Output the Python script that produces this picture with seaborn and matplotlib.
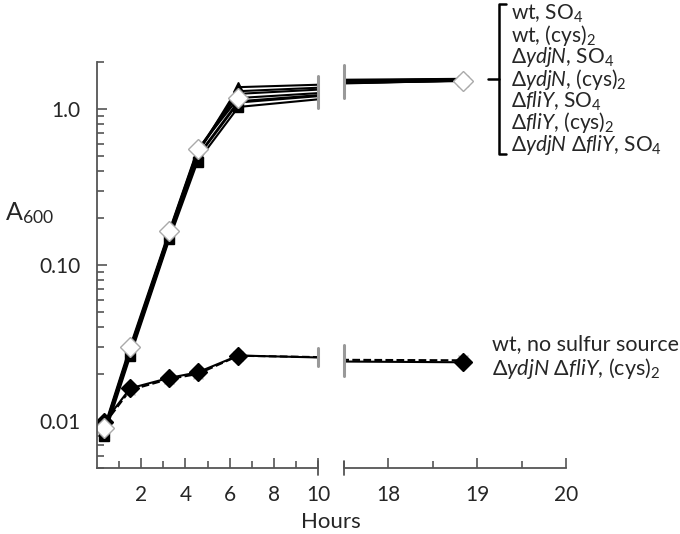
import numpy as np
import pandas as pd
import matplotlib
matplotlib.use('Agg')
import matplotlib.pyplot as plt
from matplotlib.lines import Line2D
from matplotlib.ticker import FixedLocator, LogLocator, NullFormatter
import seaborn as sns

# sampling times (hours)
hours = [0.32, 1.5, 3.27, 4.55, 6.4, 18.84]

# A600 readings, upper group (sulfur source present)
wt_so4 = [0.0080, 0.026, 0.146, 0.46, 1.03, 1.52]
wt_cys = [0.0085, 0.028, 0.158, 0.52, 1.38, 1.56]
ydjN_so4 = [0.0086, 0.028, 0.152, 0.50, 1.12, 1.53]
ydjN_cys = [0.0088, 0.029, 0.160, 0.53, 1.25, 1.55]
fliY_so4 = [0.0084, 0.027, 0.150, 0.49, 1.10, 1.52]
fliY_cys = [0.0087, 0.029, 0.162, 0.54, 1.30, 1.55]
dd_so4 = [0.0090, 0.030, 0.165, 0.55, 1.175, 1.51]

# lower group (no usable sulfur)
wt_none = [0.0095, 0.0158, 0.0186, 0.0200, 0.0262, 0.0245]
dd_cys = [0.0098, 0.0162, 0.0189, 0.0205, 0.0263, 0.0238]

upper_labels = ['wt, SO$_4$', 'wt, (cys)$_2$',
                r'$\Delta\mathit{ydjN}$, SO$_4$', r'$\Delta\mathit{ydjN}$, (cys)$_2$',
                r'$\Delta\mathit{fliY}$, SO$_4$', r'$\Delta\mathit{fliY}$, (cys)$_2$',
                r'$\Delta\mathit{ydjN}$ $\Delta\mathit{fliY}$, SO$_4$']
lower_labels = ['wt, no sulfur source',
                r'$\Delta\mathit{ydjN}$ $\Delta\mathit{fliY}$, (cys)$_2$']

sns.set_style('ticks')
plt.rcParams['font.family'] = ['Lato', 'DejaVu Sans']
plt.rcParams['mathtext.fontset'] = 'custom'
plt.rcParams['mathtext.rm'] = 'Lato'
plt.rcParams['mathtext.it'] = 'Lato:italic'
plt.rcParams['mathtext.bf'] = 'Lato:bold'

W, H = 680, 534
fig = plt.figure(figsize=(W / 100, H / 100), dpi=100)
ax1 = fig.add_axes([97 / W, 66 / H, 221 / W, 406 / H])
ax2 = fig.add_axes([344 / W, 66 / H, 222 / W, 406 / H])

# (values, marker, size, face, edge, linestyle)
series = [
    (wt_none, 'x', 7, 'none', '#bbbbbb', '--'),
    (dd_cys, 'D', 9, 'black', 'black', '-'),
    (wt_so4, 's', 7, 'black', 'black', '-'),
    (wt_cys, '^', 7, 'black', 'black', '-'),
    (ydjN_so4, 'o', 5, 'black', 'black', '-'),
    (ydjN_cys, 'o', 5, 'black', 'black', '-'),
    (fliY_so4, 's', 5, 'black', 'black', '-'),
    (fliY_cys, '^', 5, 'black', 'black', '-'),
    (dd_so4, 'D', 10, 'white', '#aaaaaa', '-'),
]

for ax in (ax1, ax2):
    for vals, mk, ms, fc, ec, ls in series:
        sns.lineplot(x=hours, y=vals, ax=ax, color='black', lw=1.5,
                     linestyle=ls, marker=mk, markersize=ms,
                     markerfacecolor=fc, markeredgecolor=ec, mew=1.0,
                     legend=False)
    ax.set_yscale('log')
    ax.set_ylim(0.005, 2.0)
    for side in ('top', 'right'):
        ax.spines[side].set_visible(False)
    for side in ('left', 'bottom'):
        ax.spines[side].set_color('#555555')
        ax.spines[side].set_linewidth(1.3)
    ax.tick_params(which='both', direction='in', color='#555555', width=1.2,
                   labelsize=15, pad=12)
    ax.tick_params(which='major', length=7)
    ax.tick_params(which='minor', length=5)
    ax.set_xlabel('')
    ax.set_ylabel('')

ax1.set_xlim(0, 10)
ax1.xaxis.set_major_locator(FixedLocator([2, 4, 6, 8, 10]))
ax1.xaxis.set_minor_locator(FixedLocator([1, 3, 5, 7, 9]))
ax1.yaxis.set_major_locator(FixedLocator([0.01, 0.1, 1.0]))
ax1.set_yticklabels(['0.01', '0.10', '1.0'])
ax1.yaxis.set_minor_locator(LogLocator(base=10, subs=np.arange(2, 10)))
ax1.yaxis.set_minor_formatter(NullFormatter())

ax2.set_xlim(17.5, 20)
ax2.xaxis.set_major_locator(FixedLocator([18, 19, 20]))
ax2.xaxis.set_minor_locator(FixedLocator([17.5, 18.5, 19.5]))
ax2.spines['left'].set_visible(False)
ax2.tick_params(axis='y', which='both', left=False, labelleft=False)
ax2.patch.set_alpha(0)

# axis break: crossing ticks on the x axis
for ax, xb in ((ax1, 10), (ax2, 17.5)):
    ax.plot([xb, xb], [-0.018, 0.018], transform=ax.get_xaxis_transform(),
            color='#555555', lw=1.3, clip_on=False)

# axis break: gray marks across each group of lines
groups = [[wt_so4, wt_cys, ydjN_so4, ydjN_cys, fliY_so4, fliY_cys, dd_so4],
          [wt_none, dd_cys]]
for ax, xb, half in ((ax1, 10, 9), (ax2, 17.5, 15)):
    for grp in groups:
        logs = [np.interp(xb, hours, np.log10(v)) for v in grp]
        lo = min(logs) - half / 157
        hi = max(logs) + half / 157
        ax.plot([xb, xb], [10 ** lo, 10 ** hi], color='#999999', lw=2.2,
                clip_on=False, zorder=5)

# axis titles
fig.text(331 / W, 1 - 522 / H, 'Hours', ha='center', va='center', fontsize=16)
fig.text(5 / W, 1 - 213 / H, 'A$_{600}$', ha='left', va='center', fontsize=18)

# legend-like labels on the right (one block per group)
fig.text(511 / W, 1 - 80 / H, '\n'.join(upper_labels), ha='left', va='center',
         fontsize=15, linespacing=0.87)
fig.text(492 / W, 1 - 358 / H, '\n'.join(lower_labels), ha='left', va='center',
         fontsize=15.5, linespacing=1.1)

# bracket grouping the upper labels
bx = [506, 499, 499, 506]
by = [4, 4, 154, 154]
fig.add_artist(Line2D([x / W for x in bx], [1 - y / H for y in by],
                      transform=fig.transFigure, color='black', lw=1.8))
fig.add_artist(Line2D([488 / W, 499 / W], [1 - 79 / H, 1 - 79 / H],
                      transform=fig.transFigure, color='black', lw=1.8))

fig.savefig('out.png', dpi=100)
